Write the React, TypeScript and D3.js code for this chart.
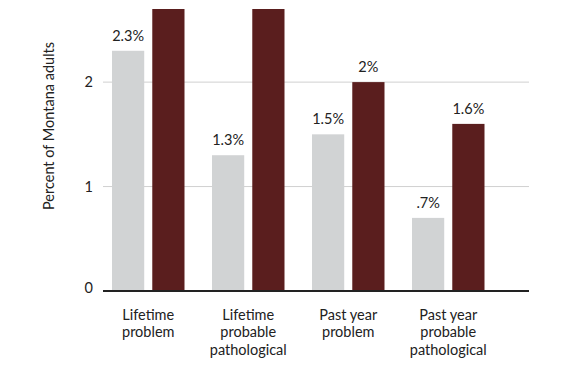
import React from "react";
import * as d3 from "d3";

const categories = [
  ["Lifetime", "problem"],
  ["Lifetime", "probable", "pathological"],
  ["Past year", "problem"],
  ["Past year", "probable", "pathological"],
];
const seriesA = [2.3, 1.3, 1.5, 0.7];
const seriesALabels = ["2.3%", "1.3%", "1.5%", ".7%"];
const seriesB = [3.0, 3.0, 2.0, 1.6];
const seriesBLabels = ["", "", "2%", "1.6%"];
const yTicks = [0, 1, 2];
const yTitle = "Percent of Montana adults";

const W = 570;
const H = 381;
const FONT = "Lato, 'Noto Sans', sans-serif";

export default function App() {
  const y = d3.scaleLinear().domain([0, 2.7]).range([291, 9]).clamp(true);
  const x0 = d3
    .scaleBand<number>()
    .domain(d3.range(categories.length))
    .range([98.25, 498.25])
    .paddingInner(0.275)
    .paddingOuter(0.1375);
  const x1 = d3
    .scaleBand<number>()
    .domain([0, 1])
    .range([0, x0.bandwidth()])
    .paddingInner(0.2);
  const axisX = [103, 529];
  const colors = ["#d1d3d4", "#5a1e1e"];
  const series = [seriesA, seriesB];
  const labels = [seriesALabels, seriesBLabels];
  const fs = 14.5;

  return (
    <svg
      width={W}
      height={H}
      style={{ position: "absolute", left: 0, top: 0, background: "#fff" }}
      fontFamily={FONT}
    >
      {yTicks
        .filter((t) => t > 0)
        .map((t) => (
          <line
            key={t}
            x1={axisX[0]}
            x2={axisX[1]}
            y1={y(t)}
            y2={y(t)}
            stroke="#d0d0d0"
            strokeWidth={1}
          />
        ))}
      {yTicks.map((t) => (
        <text
          key={t}
          x={93}
          y={y(t) - (t === 0 ? 3 : 0)}
          dy="0.35em"
          textAnchor="end"
          fontSize={fs}
          fill="#222"
        >
          {t}
        </text>
      ))}
      <text
        transform={`translate(54,${126}) rotate(-90)`}
        textAnchor="middle"
        fontSize={14.5}
        fill="#222"
      >
        {yTitle}
      </text>
      {categories.map((cat, i) => (
        <g key={i} transform={`translate(${x0(i)},0)`}>
          {series.map((s, j) => (
            <g key={j}>
              <rect
                x={x1(j)}
                y={y(s[i])}
                width={x1.bandwidth()}
                height={y(0) - y(s[i])}
                fill={colors[j]}
              />
              {labels[j][i] && (
                <text
                  x={(x1(j) as number) + x1.bandwidth() / 2}
                  y={y(s[i]) - 10}
                  textAnchor="middle"
                  fontSize={fs}
                  fill="#222"
                >
                  {labels[j][i]}
                </text>
              )}
            </g>
          ))}
          {cat.map((line, k) => (
            <text
              key={k}
              x={x0.bandwidth() / 2}
              y={320 + k * 17.4}
              textAnchor="middle"
              fontSize={fs}
              fill="#222"
            >
              {line}
            </text>
          ))}
        </g>
      ))}
      <line
        x1={axisX[0]}
        x2={axisX[1]}
        y1={y(0)}
        y2={y(0)}
        stroke="#222"
        strokeWidth={2}
      />
    </svg>
  );
}
